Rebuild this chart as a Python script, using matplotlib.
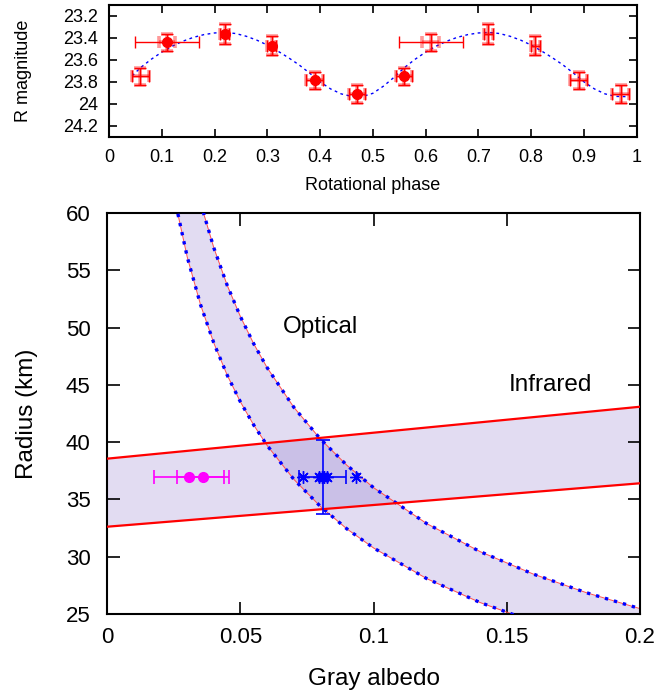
import matplotlib
matplotlib.use("Agg")
import matplotlib.pyplot as plt
from matplotlib.ticker import FuncFormatter, MultipleLocator

plt.rcParams['font.family'] = ['Liberation Sans', 'DejaVu Sans']

# ---------------- top panel data: light curve ----------------
phase = [0.059, 0.110, 0.219, 0.308, 0.390, 0.470, 0.559, 0.610, 0.719, 0.808, 0.890, 0.970]
rmag = [23.75, 23.44, 23.365, 23.47, 23.787, 23.91, 23.75, 23.44, 23.365, 23.47, 23.787, 23.91]
rmag_err = [0.08, 0.075, 0.09, 0.09, 0.08, 0.08, 0.08, 0.08, 0.09, 0.09, 0.08, 0.08]
phase_err = [0.016, 0.06, 0.008, 0.008, 0.016, 0.016, 0.016, 0.06, 0.008, 0.008, 0.016, 0.016]
filled = [False, True, True, True, True, True, True, False, False, False, False, False]

# fitted light curve
curve_phase = [0.044, 0.06, 0.08, 0.10, 0.12, 0.14, 0.16, 0.18, 0.20, 0.22, 0.24, 0.26, 0.28,
               0.30, 0.32, 0.34, 0.36, 0.38, 0.40, 0.42, 0.44, 0.46, 0.48, 0.50, 0.52, 0.54,
               0.56, 0.58, 0.60, 0.62, 0.64, 0.66, 0.68, 0.70, 0.72, 0.74, 0.76, 0.78, 0.80,
               0.82, 0.84, 0.86, 0.88, 0.90, 0.92, 0.94, 0.96, 0.98, 0.986]
curve_mag = [23.745, 23.67, 23.595, 23.53, 23.475, 23.43, 23.395, 23.37, 23.355, 23.35, 23.36,
             23.385, 23.42, 23.465, 23.52, 23.58, 23.645, 23.72, 23.80, 23.865, 23.91, 23.933,
             23.935, 23.905, 23.84, 23.76, 23.67, 23.595, 23.53, 23.475, 23.43, 23.395, 23.37,
             23.355, 23.35, 23.36, 23.385, 23.42, 23.465, 23.52, 23.58, 23.645, 23.72, 23.80,
             23.865, 23.91, 23.933, 23.935, 23.93]

# ---------------- bottom panel data ----------------
opt_albedo = [0.025, 0.03, 0.035, 0.04, 0.045, 0.05, 0.055, 0.06, 0.07, 0.08, 0.09, 0.10,
              0.12, 0.14, 0.16, 0.18, 0.20]
opt_rlow = [61.52, 56.16, 51.99, 48.64, 45.85, 43.50, 41.48, 39.71, 36.76, 34.39, 32.42, 30.76,
            28.08, 26.00, 24.32, 22.93, 21.75]
opt_rhigh = [72.04, 65.76, 60.88, 56.95, 53.69, 50.94, 48.57, 46.50, 43.05, 40.27, 37.97, 36.02,
             32.88, 30.44, 28.48, 26.85, 25.47]

ir_albedo = [0.0, 0.2]
ir_rlow = [32.62, 36.41]
ir_rhigh = [38.56, 43.09]

mag_albedo = [0.0307, 0.0358]
mag_radius = [37.0, 37.0]
mag_albedo_err = [0.0132, 0.0098]

blue_albedo = [0.0735, 0.0795, 0.0805, 0.0815, 0.0825, 0.0935]
blue_radius = [37.0, 37.0, 37.0, 37.0, 37.0, 37.0]
cross_albedo = 0.0808
cross_radius = 37.0
cross_albedo_err = 0.009
cross_radius_err_low = 3.27
cross_radius_err_high = 3.19

fmt_g = FuncFormatter(lambda v, p: '%g' % round(v, 6))

fig = plt.figure(figsize=(6.65, 6.92), dpi=100)

# ================= top panel =================
ax1 = fig.add_axes([0.1639, 0.8025, 0.7935, 0.1903])
ax1.plot(curve_phase, curve_mag, color='#0000ff', lw=1.0, linestyle=(0, (2, 2.5)), zorder=2)
halo_xerr = [min(e, 0.016) for e in phase_err]
ax1.errorbar(phase, rmag, xerr=halo_xerr, yerr=rmag_err, fmt='none', ecolor='#ff0000',
             alpha=0.4, elinewidth=2.6, capsize=4, capthick=2.6, zorder=3)
ax1.errorbar(phase, rmag, xerr=phase_err, yerr=rmag_err, fmt='none', ecolor='#ff0000',
             elinewidth=1.0, capsize=4, capthick=1.0, zorder=4)
fx = [p for p, f in zip(phase, filled) if f]
fy = [m for m, f in zip(rmag, filled) if f]
ax1.plot(fx, fy, 'o', color='#ff0000', markersize=7, zorder=5)
ax1.set_xlim(0, 1)
ax1.set_ylim(24.3, 23.1)
ax1.xaxis.set_major_locator(MultipleLocator(0.1))
ax1.yaxis.set_major_locator(MultipleLocator(0.2))
ax1.xaxis.set_major_formatter(fmt_g)
ax1.yaxis.set_major_formatter(fmt_g)
ax1.tick_params(direction='in', top=True, right=True, length=6, width=1.2, labelsize=13)
ax1.tick_params(axis='x', pad=9)
ax1.tick_params(axis='y', pad=8)
for s in ax1.spines.values():
    s.set_linewidth(1.5)
ax1.set_xlabel('Rotational phase', fontsize=13, labelpad=8)
ax1.set_ylabel('R magnitude', fontsize=13, labelpad=22)

# ================= bottom panel =================
ax2 = fig.add_axes([0.1614, 0.1127, 0.801, 0.5795])
band_color = '#6e50be'
ax2.fill_between(opt_albedo, opt_rlow, opt_rhigh, color=band_color, alpha=0.2, lw=0, zorder=1)
ax2.fill_between(ir_albedo, ir_rlow, ir_rhigh, color=band_color, alpha=0.2, lw=0, zorder=1)
for r in (opt_rlow, opt_rhigh):
    ax2.plot(opt_albedo, r, color='#ff5050', lw=0.7, zorder=2)
    ax2.plot(opt_albedo, r, color='#0000ff', lw=2.4, linestyle=(0, (1, 1.8)), zorder=3)
ax2.plot(ir_albedo, ir_rlow, color='#ff0000', lw=1.6, zorder=3)
ax2.plot(ir_albedo, ir_rhigh, color='#ff0000', lw=1.6, zorder=3)

ax2.errorbar(mag_albedo, mag_radius, xerr=mag_albedo_err, fmt='o', color='#ff00ff',
             markersize=7, elinewidth=1.2, capsize=5, capthick=1.2, zorder=4)
ax2.errorbar([cross_albedo], [cross_radius], xerr=cross_albedo_err,
             yerr=[[cross_radius_err_low], [cross_radius_err_high]], fmt='none',
             ecolor='#0000ff', elinewidth=1.2, capsize=5, capthick=1.2, zorder=4)
ax2.plot(blue_albedo, blue_radius, linestyle='none', marker=(8, 2, 0), color='#0000ff',
         markersize=9, markeredgewidth=1.0, zorder=5)

ax2.text(0.0802, 50.05, 'Optical', fontsize=17.5, ha='center', va='center')
ax2.text(0.1664, 45.0, 'Infrared', fontsize=17.5, ha='center', va='center')

ax2.set_xlim(0, 0.2)
ax2.set_ylim(25, 60)
ax2.xaxis.set_major_locator(MultipleLocator(0.05))
ax2.yaxis.set_major_locator(MultipleLocator(5))
ax2.xaxis.set_major_formatter(fmt_g)
ax2.yaxis.set_major_formatter(fmt_g)
ax2.tick_params(direction='in', top=True, right=True, length=9, width=1.2, labelsize=16)
ax2.tick_params(axis='x', pad=9)
ax2.tick_params(axis='y', pad=12)
for s in ax2.spines.values():
    s.set_linewidth(1.5)
ax2.set_xlabel('Gray albedo', fontsize=17.5, labelpad=15)
ax2.set_ylabel('Radius (km)', fontsize=17.5, labelpad=20)

fig.savefig('out.png', dpi=100)
